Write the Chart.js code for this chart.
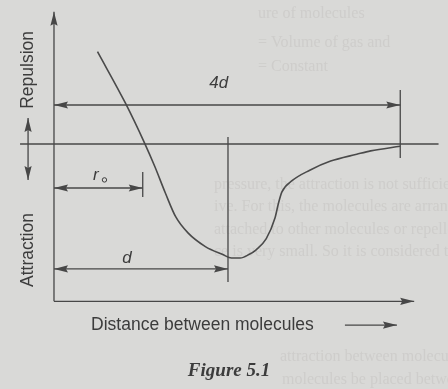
<!DOCTYPE html>
<html>
<head>
<meta charset="utf-8">
<script src="https://cdn.jsdelivr.net/npm/chart.js@4"></script>
<style>
  html, body { margin: 0; padding: 0; background: #d9d9d7; }
  #energyChart { display: block; }
</style>
</head>
<body>
<canvas id="energyChart" width="448" height="389"></canvas>
<script>
// potential energy curve, distance in units of d, energy in units of the well depth
const distance = [0.25, 0.41, 0.52, 0.58, 0.64, 0.70, 0.77, 0.87, 0.97, 1.02, 1.07, 1.12, 1.16, 1.22, 1.27, 1.29, 1.31, 1.37, 1.47, 1.59, 1.74, 1.82, 1.99];
const energy   = [0.81, 0.36, 0.01, -0.20, -0.43, -0.64, -0.78, -0.90, -0.97, -1.00, -1.00, -0.97, -0.93, -0.83, -0.65, -0.52, -0.42, -0.32, -0.23, -0.15, -0.09, -0.06, -0.02];

// marked distances on the figure
const markR0 = 0.51;
const markD = 1.0;
const mark4d = 1.99;
const markLabels = ['r', 'd', '4d'];

const axisLabels = ['Repulsion', 'Attraction', 'Distance between molecules'];
const caption = 'Figure 5.1';

// faint text of the printed page showing through the scan
const pageLines = [
  [258, 14, 'ure of molecules'],
  [258, 43, '= Volume of gas and'],
  [258, 67, '= Constant'],
  [214, 185, 'pressure, the attraction is not sufficient for it'],
  [214, 207, 'ive. For this, the molecules are arranged at the'],
  [214, 230, 'attached to other molecules or repelled. At low'],
  [214, 252, 'ce is very small. So it is considered that at low'],
  [280, 357, 'attraction between molecules'],
  [282, 380, 'molecules be placed between']
];

const ink = '#474747';
const textInk = '#3c3c3c';

function arrowHead(c, x, y, angle) {
  const len = 14, half = 3.6;
  c.save();
  c.translate(x, y);
  c.rotate(angle);
  c.beginPath();
  c.moveTo(0, 0);
  c.lineTo(-len, -half);
  c.lineTo(-len + 2, 0);
  c.lineTo(-len, half);
  c.closePath();
  c.fill();
  c.restore();
}

function line(c, x1, y1, x2, y2) {
  c.beginPath();
  c.moveTo(x1, y1);
  c.lineTo(x2, y2);
  c.stroke();
}

const pageText = {
  id: 'pageText',
  beforeDatasetsDraw(chart) {
    const c = chart.ctx;
    c.save();
    c.fillStyle = '#cecdcb';
    c.font = '16px "Liberation Serif"';
    c.textBaseline = 'middle';
    pageLines.forEach(l => c.fillText(l[2], l[0], l[1]));
    c.restore();
  }
};

const figureMarks = {
  id: 'figureMarks',
  afterDatasetsDraw(chart) {
    const c = chart.ctx;
    const xs = chart.scales.x, ys = chart.scales.y;
    const px = v => xs.getPixelForValue(v);
    const py = v => ys.getPixelForValue(v);

    c.save();
    c.strokeStyle = ink;
    c.fillStyle = ink;
    c.lineWidth = 1.3;

    // axes
    const x0 = px(0), yBase = py(-1.38);
    line(c, x0, yBase, x0, py(1.16));
    arrowHead(c, x0, py(1.16), -Math.PI / 2);
    line(c, x0, yBase, px(2.07), yBase);
    arrowHead(c, px(2.07), yBase, 0);

    // zero energy line
    line(c, px(-0.195), py(0), px(2.21), py(0));

    // repulsion / attraction double arrow
    const xa = px(-0.149);
    line(c, xa, py(0.228), xa, py(-0.316));
    arrowHead(c, xa, py(0.228), -Math.PI / 2);
    arrowHead(c, xa, py(-0.316), Math.PI / 2);

    // vertical marks
    line(c, px(markD), py(0.061), px(markD), py(-1.21));
    line(c, px(mark4d), py(0.474), px(mark4d), py(-0.123));
    line(c, px(markR0), py(-0.246), px(markR0), py(-0.465));

    // dimension arrows
    [[mark4d, 0.342], [markR0, -0.386], [markD, -1.096]].forEach(([m, y]) => {
      const yy = py(y);
      line(c, x0, yy, px(m), yy);
      arrowHead(c, x0, yy, Math.PI);
      arrowHead(c, px(m), yy, 0);
    });

    // arrow after the x title
    const yt = py(-1.588);
    line(c, px(1.672), yt, px(1.971), yt);
    arrowHead(c, px(1.971), yt, 0);

    // labels
    c.fillStyle = textInk;
    c.textAlign = 'center';
    c.textBaseline = 'middle';
    c.font = 'italic 17px "Liberation Sans"';
    c.fillText(markLabels[2], px(0.947), py(0.535));
    c.fillText(markLabels[1], px(0.42), py(-1.0));
    c.fillText(markLabels[0], px(0.24), py(-0.27));
    c.lineWidth = 1;
    c.strokeStyle = textInk;
    c.beginPath();
    c.arc(px(0.29), py(-0.315), 2.2, 0, Math.PI * 2);
    c.stroke();

    c.font = '17.5px "Liberation Sans"';
    c.fillText(axisLabels[2], px(0.853), yt);
    [[axisLabels[0], 0.65], [axisLabels[1], -0.93]].forEach(([t, y]) => {
      c.save();
      c.translate(px(-0.149), py(y));
      c.rotate(-Math.PI / 2);
      c.fillText(t, 0, 0);
      c.restore();
    });

    c.font = 'bold italic 19px "Liberation Serif"';
    c.fillText(caption, px(1.006), py(-1.99));
    c.restore();
  }
};

new Chart(document.getElementById('energyChart'), {
  type: 'scatter',
  data: {
    datasets: [{
      label: 'Potential energy',
      data: distance.map((x, i) => ({ x: x, y: energy[i] })),
      showLine: true,
      borderColor: '#4a4a4a',
      borderWidth: 1.6,
      pointRadius: 0,
      cubicInterpolationMode: 'monotone',
      fill: false
    }]
  },
  options: {
    responsive: false,
    devicePixelRatio: 1,
    animation: false,
    layout: { padding: 0 },
    plugins: {
      legend: { display: false },
      tooltip: { enabled: false }
    },
    scales: {
      x: { type: 'linear', display: false, min: -0.3103, max: 2.2644 },
      y: { type: 'linear', display: false, min: -2.1491, max: 1.2632 }
    }
  },
  plugins: [pageText, figureMarks]
});
</script>
</body>
</html>
